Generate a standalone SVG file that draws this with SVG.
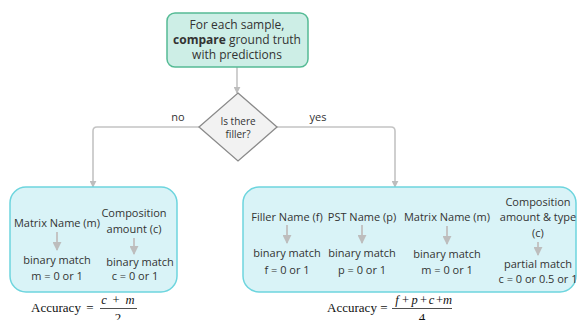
<svg xmlns="http://www.w3.org/2000/svg" width="578" height="320" viewBox="0 0 578 320">
<defs>
<marker id="ah" viewBox="0 0 10 10" refX="9" refY="5" markerWidth="7" markerHeight="7" orient="auto" markerUnits="userSpaceOnUse"><path d="M0,0 L10,5 L0,10 Z" fill="#bdbdbd"/></marker>
<marker id="ah2" viewBox="0 0 10 10" refX="9" refY="5" markerWidth="9" markerHeight="9" orient="auto" markerUnits="userSpaceOnUse"><path d="M0,0 L10,5 L0,10 Z" fill="#bdbdbd"/></marker>
</defs>
<style>
text{font-family:"Open Sans","Noto Sans",sans-serif;fill:#333;text-anchor:middle}
.t12{font-size:12px}
.t11{font-size:11px}
.t10{font-size:10px}
.conn{fill:none;stroke:#c4c4c4;stroke-width:1.6}
.inner{fill:none;stroke:#c4c4c4;stroke-width:2}
.box{fill:#d9f3f7;stroke:#6dd5de;stroke-width:1.5}
.math{font-family:"Liberation Serif","DejaVu Serif",serif;font-size:13px;fill:#111}
.n{font-size:12.5px}
.mi{font-style:italic}
</style>
<g id="connectors">
<line class="conn" x1="237" y1="67" x2="237" y2="93" marker-end="url(#ah)"/>
<path class="conn" d="M199,127 H97 Q93,127 93,131 V187" marker-end="url(#ah)"/>
<path class="conn" d="M277,127 H391 Q395,127 395,131 V187" marker-end="url(#ah)"/>
<text class="t11" x="178" y="121">no</text>
<text class="t11" x="318" y="121">yes</text>
</g>
<g id="start">
<rect x="167" y="13" width="141" height="54" rx="8" fill="#cdeee6" stroke="#55bb95" stroke-width="1.5"/>
<text class="t12" x="237" y="29">For each sample,</text>
<text class="t12" x="237" y="44"><tspan font-weight="bold">compare</tspan> ground truth</text>
<text class="t12" x="237" y="59">with predictions</text>
</g>
<g id="decision">
<polygon points="238,93 277,127 238,161 199,127" fill="#f2f2f2" stroke="#8a8a8a" stroke-width="1.3"/>
<text class="t10" x="238" y="125">Is there</text>
<text class="t10" x="238" y="138">filler?</text>
</g>
<g id="no-filler">
<rect class="box" x="10" y="187" width="167" height="105" rx="16"/>
<text class="t11" x="57" y="227">Matrix Name (m)</text>
<line class="inner" x1="57" y1="232" x2="57" y2="250" marker-end="url(#ah2)"/>
<text class="t11" x="57" y="264">binary match</text>
<text class="t11" x="57" y="280">m = 0 or 1</text>
<text class="t11" x="134" y="217">Composition</text>
<text class="t11" x="134" y="233">amount (c)</text>
<line class="inner" x1="134" y1="238" x2="134" y2="254" marker-end="url(#ah2)"/>
<text class="t11" x="140" y="266">binary match</text>
<text class="t11" x="135" y="280">c = 0 or 1</text>
</g>
<g id="filler">
<rect class="box" x="243" y="187" width="333" height="105" rx="16"/>
<text class="t11" x="287" y="221">Filler Name (f)</text>
<line class="inner" x1="287" y1="225" x2="287" y2="243" marker-end="url(#ah2)"/>
<text class="t11" x="287" y="257">binary match</text>
<text class="t11" x="287" y="274">f = 0 or 1</text>
<text class="t11" x="362" y="221">PST Name (p)</text>
<line class="inner" x1="362" y1="225" x2="362" y2="243" marker-end="url(#ah2)"/>
<text class="t11" x="362" y="257">binary match</text>
<text class="t11" x="362" y="274">p = 0 or 1</text>
<text class="t11" x="447" y="221">Matrix Name (m)</text>
<line class="inner" x1="447" y1="226" x2="447" y2="244" marker-end="url(#ah2)"/>
<text class="t11" x="447" y="258">binary match</text>
<text class="t11" x="447" y="274">m = 0 or 1</text>
<text class="t11" x="538" y="206">Composition</text>
<text class="t11" x="538" y="221">amount &amp; type</text>
<text class="t11" x="538" y="237">(c)</text>
<line class="inner" x1="538" y1="242" x2="538" y2="255" marker-end="url(#ah2)"/>
<text class="t11" x="538" y="268">partial match</text>
<text class="t11" x="538" y="283">c = 0 or 0.5 or 1</text>
</g>
<g id="formula-left">
<text class="math" x="56" y="312">Accuracy</text>
<text class="math" x="90" y="312">=</text>
<text class="math n" y="304"><tspan class="mi" x="104">c</tspan><tspan x="116">+</tspan><tspan class="mi" x="130">m</tspan></text>
<line x1="100" y1="308.5" x2="137" y2="308.5" stroke="#222" stroke-width="0.8"/>
<text class="math" x="118" y="322">2</text>
</g>
<g id="formula-right">
<text class="math" x="352" y="312">Accuracy</text>
<text class="math" x="384" y="312">=</text>
<text class="math n" y="304"><tspan class="mi" x="397">f</tspan><tspan x="405.5">+</tspan><tspan class="mi" x="414.5">p</tspan><tspan x="423.5">+</tspan><tspan class="mi" x="431.5">c</tspan><tspan x="439.5">+</tspan><tspan class="mi" x="447.5">m</tspan></text>
<line x1="392" y1="308.5" x2="452" y2="308.5" stroke="#222" stroke-width="0.8"/>
<text class="math" x="422" y="322">4</text>
</g>
</svg>
